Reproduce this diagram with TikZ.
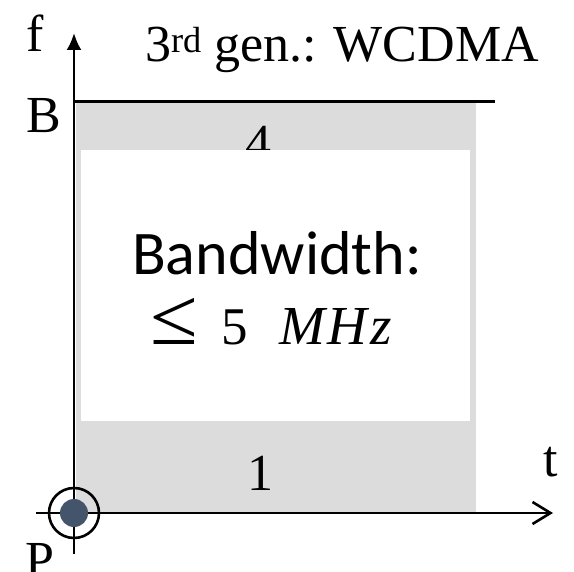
\documentclass[tikz,border=0pt]{standalone}
\usepackage{fontspec}
\setmainfont{Liberation Serif}
\newfontfamily\calibrifont{Carlito}
\usetikzlibrary{arrows.meta}
\definecolor{boxgray}{HTML}{DCDCDC}
\definecolor{dotblue}{HTML}{44546A}
\tikzset{
  lbl/.style={inner sep=0pt, outer sep=0pt, anchor=base west, font=\fontsize{52}{60}\selectfont},
  axisline/.style={line width=2.6pt},
}
\begin{document}
\begin{tikzpicture}[x=1pt,y=-1pt]
\useasboundingbox (0,0) rectangle (574,572);
\clip (0,0) rectangle (574,572);
% shaded band
\fill[boxgray] (76,103) rectangle (476,513);
% digits behind
\node[lbl, anchor=base] (four) at (258,161) {4};
\node[lbl, anchor=base] (one) at (260,491) {1};
% white box
\node[fill=white, inner sep=0pt, minimum width=389pt, minimum height=271pt, anchor=north west] (bw) at (81,150) {};
\node[inner sep=0pt, font=\calibrifont\fontsize{62}{70}\selectfont, anchor=base] (bwtxt) at (277,275) {Bandwidth:};
\node[inner sep=0pt, font=\fontsize{62}{70}\selectfont, anchor=base] (leq) at (174,345) {\scalebox{1.4}[1.3]{≤}};
\node[inner sep=0pt, font=\fontsize{53}{66}\selectfont, anchor=base west] (five) at (221,345) {5};
\node[inner sep=0pt, font=\fontsize{55}{66}\selectfont\itshape, anchor=base west] (mhz) at (279,345) {M\hspace{3pt}H\hspace{3pt}z};
% coordinates
\coordinate (origin) at (74,513);
\coordinate (ftop) at (74,33);
\coordinate (fbot) at (74,554);
\coordinate (tleft) at (36,513);
\coordinate (tright) at (553,513);
\coordinate (bl) at (74,102);
\coordinate (br) at (495,102);
% axes
\draw[axisline, -{Latex[length=17pt,width=15pt]}] (fbot) -- (ftop);
\draw[axisline, -{Straight Barb[length=18pt,width=22pt]}] (tleft) -- (tright);
\draw[line width=3pt] (bl) -- (br);
% marker
\node[circle, draw, line width=2.6pt, minimum size=50pt, inner sep=0pt] (ring) at (origin) {};
\node[circle, fill=dotblue, minimum size=28pt, inner sep=0pt] (dot) at (origin) {};
% labels
\node[lbl] (f) at (27,52) {f};
\node[lbl] (title) at (145,62) {3\textsuperscript{rd} gen.:\hspace{-1pt} WCDMA};
\node[lbl] (B) at (27,133) {B};
\node[lbl] (P) at (25,577) {P};
\node[lbl] (t) at (543,477) {t};
\end{tikzpicture}
\end{document}
